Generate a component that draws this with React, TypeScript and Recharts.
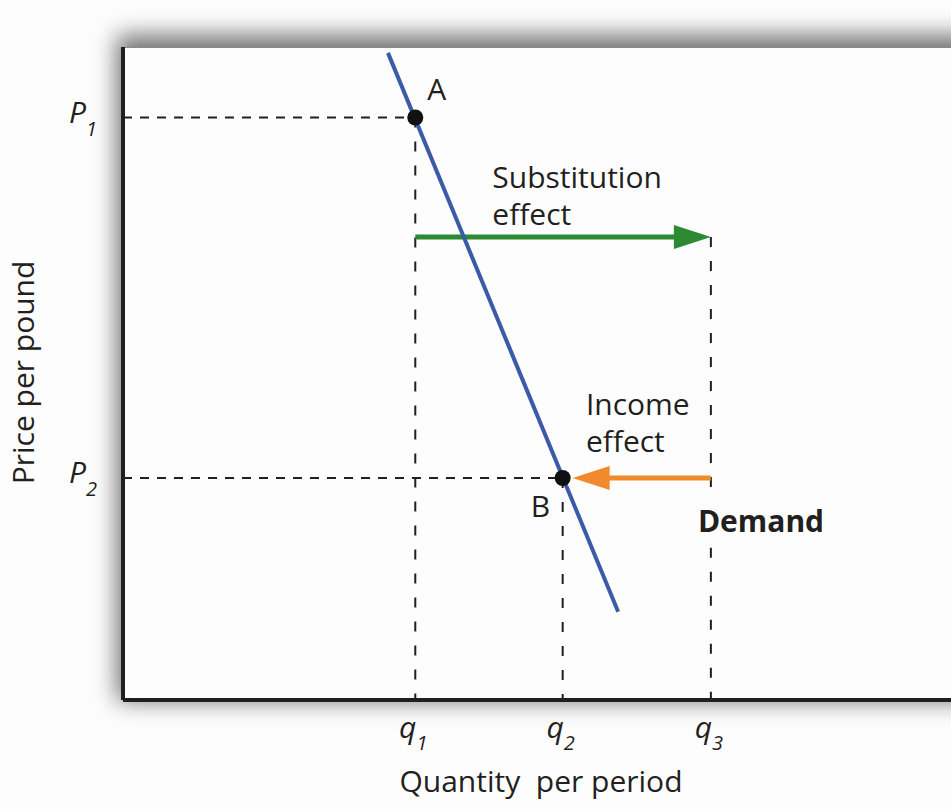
import React from 'react'
import { ComposedChart, Line, XAxis, YAxis, ReferenceLine, ReferenceDot } from 'recharts'

// quantity / price in arbitrary units (0-100 on both axes)
const Q_TICKS = [35.3, 53.1, 71.0]
const Q_SUBS = ['1', '2', '3']
const P_TICKS = [89.2, 34.0]
const P_SUBS = ['1', '2']

const DEMAND = [
  { q: 32.0, p: 99.1 },
  { q: 59.8, p: 13.5 },
]

const SUBSTITUTION = [
  { q: 35.3, p: 70.9 },
  { q: 71.0, p: 70.9 },
]

const INCOME = [
  { q: 71.0, p: 34.0 },
  { q: 54.3, p: 34.0 },
]

const POINTS = [
  { name: 'A', q: 35.3, p: 89.2 },
  { name: 'B', q: 53.1, p: 34.0 },
]

// where the q3 guide line is broken for the "Demand" label
const Q3_GAP = [31.7, 23.3]

const FONT = '"Open Sans", sans-serif'
const INK = '#231f20'
const BLUE = '#3c5ba6'
const GREEN = '#2b8a32'
const ORANGE = '#f08a2c'

const H_DASH = '9 8'
const V_DASH = '10 14'

const arrow = (color: string, width: number) => (props: any) => {
  const { x1, y1, x2, y2 } = props
  const ang = Math.atan2(y2 - y1, x2 - x1)
  const len = 37
  const half = 12
  const bx = x2 - len * Math.cos(ang)
  const by = y2 - len * Math.sin(ang)
  const nx = -Math.sin(ang) * half
  const ny = Math.cos(ang) * half
  return (
    <g>
      <line x1={x1} y1={y1} x2={bx + 2 * Math.cos(ang)} y2={by + 2 * Math.sin(ang)} stroke={color} strokeWidth={width} />
      <polygon points={`${x2},${y2} ${bx + nx},${by + ny} ${bx - nx},${by - ny}`} fill={color} />
    </g>
  )
}

const PriceTick = (props: any) => {
  const { x, y, payload } = props
  const i = P_TICKS.indexOf(payload.value)
  return (
    <text x={x - 26} y={y + 5} textAnchor="end" fontFamily={FONT} fontStyle="italic" fill={INK}>
      <tspan fontSize={30}>P</tspan>
      <tspan fontSize={20} dy={13}>{P_SUBS[i]}</tspan>
    </text>
  )
}

const QuantityTick = (props: any) => {
  const { x, y, payload } = props
  const i = Q_TICKS.indexOf(payload.value)
  return (
    <text x={x - 2} y={y + 38} textAnchor="middle" fontFamily={FONT} fontStyle="italic" fill={INK}>
      <tspan fontSize={30}>q</tspan>
      <tspan fontSize={20} dy={12}>{Q_SUBS[i]}</tspan>
    </text>
  )
}

const textStyle = { fontFamily: FONT, fontSize: 30, fill: INK }

export default function App() {
  const [a, b] = POINTS
  return (
    <div style={{ position: 'absolute', left: 0, top: 0, width: 951, height: 809, overflow: 'hidden', background: '#fdfdfd' }}>
      <div
        style={{
          position: 'absolute',
          left: 123,
          top: 47,
          width: 900,
          height: 653,
          background: '#fdfdfd',
          borderTop: '1px solid #8a8a8a',
          boxShadow: '0 -6px 22px 6px rgba(0,0,0,0.55)',
        }}
      />
      <div style={{ position: 'absolute', left: 0, top: 0 }}>
        <ComposedChart width={951} height={809} margin={{ top: 47, right: 0, bottom: 79, left: 63 }}>
          <XAxis
            type="number"
            dataKey="q"
            domain={[0, 100]}
            ticks={Q_TICKS}
            interval={0}
            tick={<QuantityTick />}
            tickLine={false}
            tickSize={0}
            tickMargin={0}
            axisLine={{ stroke: INK, strokeWidth: 4 }}
            height={30}
            label={{
              content: (p: any) => (
                <text
                  x={p.viewBox.x + p.viewBox.width / 2 + 4}
                  y={792}
                  textAnchor="middle"
                  style={{ whiteSpace: 'pre' }}
                  {...textStyle}
                >
                  {'Quantity  per period'}
                </text>
              ),
            }}
          />
          <YAxis
            type="number"
            dataKey="p"
            domain={[0, 100]}
            ticks={P_TICKS}
            interval={0}
            tick={<PriceTick />}
            tickLine={false}
            tickSize={0}
            tickMargin={0}
            axisLine={{ stroke: INK, strokeWidth: 4 }}
            width={60}
            label={{
              content: (p: any) => {
                const cx = p.viewBox.x - 29
                const cy = p.viewBox.y + p.viewBox.height / 2 - 1
                return (
                  <text x={cx} y={cy} textAnchor="middle" transform={`rotate(-90, ${cx}, ${cy})`} {...textStyle}>
                    Price per pound
                  </text>
                )
              },
            }}
          />

          {/* guide lines */}
          <ReferenceLine segment={[{ x: 0, y: a.p }, { x: a.q, y: a.p }]} stroke={INK} strokeWidth={2} strokeDasharray={H_DASH} />
          <ReferenceLine segment={[{ x: 0, y: b.p }, { x: b.q, y: b.p }]} stroke={INK} strokeWidth={2} strokeDasharray={H_DASH} />
          <ReferenceLine segment={[{ x: Q_TICKS[0], y: a.p }, { x: Q_TICKS[0], y: 0 }]} stroke={INK} strokeWidth={2} strokeDasharray={V_DASH} />
          <ReferenceLine segment={[{ x: Q_TICKS[1], y: b.p }, { x: Q_TICKS[1], y: 0 }]} stroke={INK} strokeWidth={2} strokeDasharray={V_DASH} />
          <ReferenceLine segment={[{ x: Q_TICKS[2], y: SUBSTITUTION[1].p }, { x: Q_TICKS[2], y: Q3_GAP[0] }]} stroke={INK} strokeWidth={2} strokeDasharray={V_DASH} />
          <ReferenceLine segment={[{ x: Q_TICKS[2], y: Q3_GAP[1] }, { x: Q_TICKS[2], y: 0 }]} stroke={INK} strokeWidth={2} strokeDasharray={V_DASH} />

          {/* effects */}
          <ReferenceLine segment={[{ x: SUBSTITUTION[0].q, y: SUBSTITUTION[0].p }, { x: SUBSTITUTION[1].q, y: SUBSTITUTION[1].p }]} shape={arrow(GREEN, 5)} />
          <ReferenceLine segment={[{ x: INCOME[0].q, y: INCOME[0].p }, { x: INCOME[1].q, y: INCOME[1].p }]} shape={arrow(ORANGE, 5)} />

          <Line data={DEMAND} dataKey="p" stroke={BLUE} strokeWidth={4} dot={false} isAnimationActive={false} />

          <ReferenceDot
            x={a.q}
            y={a.p}
            r={8}
            shape={(p: any) => (
              <g>
                <circle cx={p.cx} cy={p.cy} r={8} fill="#111" />
                <text x={p.cx + 12} y={p.cy - 18} {...textStyle}>{a.name}</text>
              </g>
            )}
          />
          <ReferenceDot
            x={b.q}
            y={b.p}
            r={8}
            shape={(p: any) => (
              <g>
                <circle cx={p.cx} cy={p.cy} r={8} fill="#111" />
                <text x={p.cx - 32} y={p.cy + 39} {...textStyle}>{b.name}</text>
              </g>
            )}
          />
          <ReferenceDot
            x={SUBSTITUTION[0].q}
            y={SUBSTITUTION[0].p}
            r={0}
            shape={(p: any) => (
              <text x={p.cx + 77} y={p.cy - 49} {...textStyle}>
                <tspan x={p.cx + 77}>Substitution</tspan>
                <tspan x={p.cx + 77} dy={37}>effect</tspan>
              </text>
            )}
          />
          <ReferenceDot
            x={INCOME[0].q}
            y={INCOME[0].p}
            r={0}
            shape={(p: any) => (
              <g>
                <text x={p.cx - 125} y={p.cy - 63} {...textStyle}>
                  <tspan x={p.cx - 125}>Income</tspan>
                  <tspan x={p.cx - 125} dy={37.5}>effect</tspan>
                </text>
                <text x={p.cx - 13} y={p.cy + 54} {...textStyle} fontWeight="bold">Demand</text>
              </g>
            )}
          />
        </ComposedChart>
      </div>
    </div>
  )
}
